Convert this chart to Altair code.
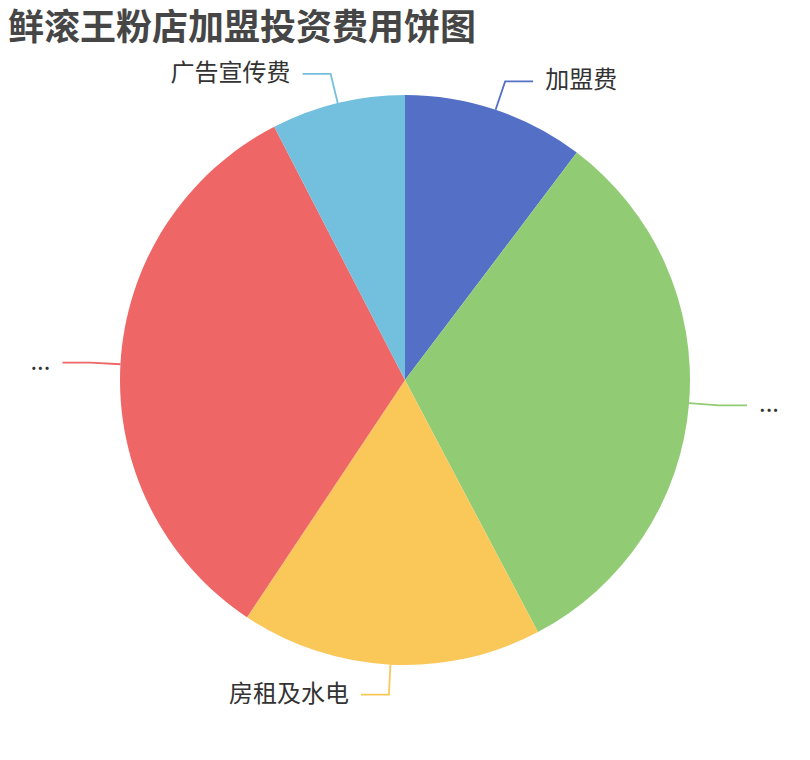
import altair as alt
import numpy as np
import pandas as pd

# ---- data ----
labels = ["加盟费", "...", "房租及水电", "...", "广告宣传费"]
values = [3.8, 11.8, 6.3, 12.2, 2.8]
colors = ["#5470c6", "#91cc75", "#fac858", "#ee6666", "#73c0de"]
title_text = "鲜滚王粉店加盟投资费用饼图"

# ---- layout constants ----
W, H = 794, 628
PAD_T, PAD_B = 58, 58
CX, CY = W / 2, H / 2
R = 285
L1, L2, GAP = 30, 28, 12

keys = [f"s{i}" for i in range(len(values))]
vals = np.array(values, dtype=float)
total = vals.sum()
cum = np.cumsum(vals)
mid = (cum - vals / 2) / total * 2 * np.pi

df = pd.DataFrame({"key": keys, "label": labels, "value": values, "idx": range(len(values))})

line_rows, text_rows = [], []
for i, m in enumerate(mid):
    s, c = np.sin(m), np.cos(m)
    side = 1 if s >= 0 else -1
    p0 = (CX + R * s, CY - R * c)
    p1 = (CX + (R + L1) * s, CY - (R + L1) * c)
    p2 = (p1[0] + side * L2, p1[1])
    for k, p in enumerate([p0, p1, p2]):
        line_rows.append({"key": keys[i], "pt": k, "x": p[0], "y": p[1]})
    text_rows.append({"key": keys[i], "label": labels[i], "side": "right" if side > 0 else "left",
                      "x": p2[0] + side * GAP, "y": p2[1]})
lines = pd.DataFrame(line_rows)
texts = pd.DataFrame(text_rows)

color = alt.Color("key:N", scale=alt.Scale(domain=keys, range=colors), legend=None)
xs = alt.X("x:Q", scale=alt.Scale(domain=[0, W]), axis=None)
ys = alt.Y("y:Q", scale=alt.Scale(domain=[0, H], reverse=True), axis=None)

pie = alt.Chart(df).mark_arc(outerRadius=R).encode(
    theta=alt.Theta("value:Q", stack=True),
    order=alt.Order("idx:Q"),
    color=color,
)

leader = alt.Chart(lines).mark_line(strokeWidth=1.8).encode(
    x=xs, y=ys, color=color, detail="key:N", order="pt:Q"
)

font = "Noto Sans CJK SC"
txt_r = alt.Chart(texts).transform_filter(alt.datum.side == "right").mark_text(
    align="left", baseline="middle", fontSize=24, font=font, color="#333333"
).encode(x=xs, y=ys, text="label:N")
txt_l = alt.Chart(texts).transform_filter(alt.datum.side == "left").mark_text(
    align="right", baseline="middle", fontSize=24, font=font, color="#333333"
).encode(x=xs, y=ys, text="label:N")

chart = alt.layer(pie, leader, txt_r, txt_l).properties(
    width=W,
    height=H,
    background="white",
    title=alt.TitleParams(
        title_text, anchor="start", frame="group", fontSize=36, fontWeight="bold",
        color="#464646", font=font, offset=14,
    ),
    autosize=alt.AutoSizeParams(type="none"),
    padding={"left": 0, "right": 0, "top": PAD_T, "bottom": PAD_B},
).configure_view(stroke="transparent", strokeWidth=0)

chart.save("out.html", embed_options={"renderer": "svg", "actions": False})
